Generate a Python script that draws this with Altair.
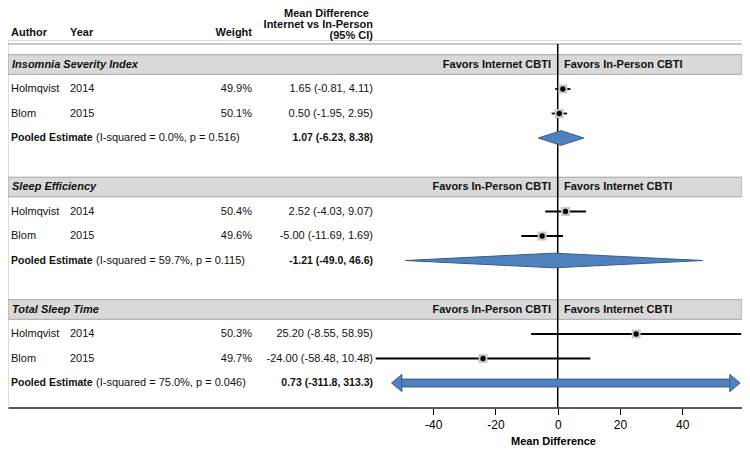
import altair as alt
import pandas as pd

# ---------------- data ----------------
OUTCOMES = ["Insomnia Severity Index", "Sleep Efficiency", "Total Sleep Time"]
FAVORS_LEFT = ["Favors Internet CBTI", "Favors In-Person CBTI", "Favors In-Person CBTI"]
FAVORS_RIGHT = ["Favors In-Person CBTI", "Favors Internet CBTI", "Favors Internet CBTI"]
AUTHORS = ["Holmqvist", "Blom"]
YEARS = ["2014", "2015"]
WEIGHTS = [["49.9%", "50.1%"], ["50.4%", "49.6%"], ["50.3%", "49.7%"]]
EST = [[1.65, 0.50], [2.52, -5.00], [25.20, -24.00]]
LOWER = [[-0.81, -1.95], [-4.03, -11.69], [-8.55, -58.48]]
UPPER = [[4.11, 2.95], [9.07, 1.69], [58.95, 10.48]]
POOLED_EST = [1.07, -1.21, 0.73]
POOLED_LOWER = [-6.23, -49.0, -311.8]
POOLED_UPPER = [8.38, 46.6, 313.3]
POOLED_LABEL = ["1.07 (-6.23, 8.38)", "-1.21 (-49.0, 46.6)", "0.73 (-311.8, 313.3)"]
HETEROGENEITY = ["(I-squared = 0.0%, p = 0.516)",
                 "(I-squared = 59.7%, p = 0.115)",
                 "(I-squared = 75.0%, p = 0.046)"]
HEADER_COLS = ["Author", "Year", "Weight"]
HEADER_CI = ["Mean Difference", "Internet vs In-Person", "(95% CI)"]
TICKS = [-40, -20, 0, 20, 40]
X_TITLE = "Mean Difference"

# ---------------- layout ----------------
W, H = 734, 367.5
PAD = {"left": 0, "right": 0, "top": 32, "bottom": 40.5}
X_DOMAIN = [-176.6, 59.2]
ARROW_LIMITS = [-53.4, 58.6]
Y_DOMAIN = [0, 15]
FONT = "Liberation Sans"
TXT = "#111111"
ROW_FS = 11

xs = alt.Scale(domain=X_DOMAIN, nice=False, zero=False)
ys = alt.Scale(domain=Y_DOMAIN, nice=False, zero=False, reverse=True)
X_AXIS = alt.Axis(values=TICKS, title=X_TITLE, grid=False, domainColor="#595959",
                  domainWidth=2, tickColor="#000000", tickSize=7, tickWidth=1,
                  labelFontSize=12, labelColor="#000000", labelPadding=5,
                  labelExpr="'' + datum.value", labelFont=FONT,
                  titleFont=FONT, titleFontSize=11, titleFontWeight="bold",
                  titleColor="#000000", titleX=545, titleY=34, titleBaseline="middle")

# ---------------- tables ----------------
bands, studies, pooled, diamond, arrows = [], [], [], [], []
for k, name in enumerate(OUTCOMES):
    base = 1 + 5 * k
    bands.append({"row": base, "outcome": name, "left": FAVORS_LEFT[k], "right": FAVORS_RIGHT[k]})
    for j in range(2):
        e, lo, hi = EST[k][j], LOWER[k][j], UPPER[k][j]
        studies.append({"row": base + 1 + j, "author": AUTHORS[j], "year": YEARS[j],
                        "weight": WEIGHTS[k][j], "est": e, "lo": lo, "hi": hi,
                        "ci": f"{e:.2f} ({lo:.2f}, {hi:.2f})"})
    prow = base + 3
    pooled.append({"row": prow, "label": POOLED_LABEL[k], "het": HETEROGENEITY[k]})
    pe, pl, ph = POOLED_EST[k], POOLED_LOWER[k], POOLED_UPPER[k]
    if pl >= ARROW_LIMITS[0] and ph <= ARROW_LIMITS[1]:
        for xv, dy in [(pl, 0.0), (pe, 0.3), (ph, 0.0)]:
            diamond.append({"g": name, "x": xv, "y": prow - dy, "y2": prow + dy})
    else:
        arrows.append({"row": prow, "lo": max(pl, ARROW_LIMITS[0]), "hi": min(ph, ARROW_LIMITS[1])})

bands = pd.DataFrame(bands)
studies = pd.DataFrame(studies)
pooled = pd.DataFrame(pooled)
diamond = pd.DataFrame(diamond)
arrows = pd.DataFrame(arrows)
one = pd.DataFrame({"x": [0]})

Y = lambda f: alt.Y(f, scale=ys, axis=None)
X = lambda f: alt.X(f, scale=xs, axis=X_AXIS)

layers = []

# gray outcome bands
layers.append(
    alt.Chart(bands).transform_calculate(top="datum.row - 0.4", bot="datum.row + 0.4")
    .mark_rect(fill="#d9d9d9", stroke="#a6a6a6", strokeWidth=1)
    .encode(x=alt.value(0), x2=alt.value(W), y=Y("top:Q"), y2="bot:Q")
)
# header separator line
layers.append(
    alt.Chart(one).mark_rule(color="#c8c8c8", strokeWidth=2)
    .encode(x=alt.value(0), x2=alt.value(W), y=alt.value(4))
)
# zero line
layers.append(
    alt.Chart(one).mark_rule(color="#000000", strokeWidth=1.5)
    .encode(x=X("x:Q"), y=alt.value(4), y2=alt.value(H))
)
# pooled diamonds
if len(diamond):
    layers.append(
        alt.Chart(diamond).mark_area(fill="#4f81bd", stroke="#385d8a", strokeWidth=1, opacity=1)
        .encode(x=X("x:Q"), y=Y("y:Q"), y2="y2:Q", detail="g:N")
    )
# pooled arrows (interval beyond the plotted range)
if len(arrows):
    layers.append(
        alt.Chart(arrows).transform_calculate(top="datum.row - 0.16", bot="datum.row + 0.16")
        .mark_rect(fill="#4f81bd", stroke="#385d8a", strokeWidth=1, xOffset=8, x2Offset=-8)
        .encode(x=X("lo:Q"), x2="hi:Q", y=Y("top:Q"), y2="bot:Q")
    )
    layers.append(
        alt.Chart(arrows).mark_point(shape="M-0.6,0L0.6,-1L0.6,1Z", size=300, filled=True,
                                     fill="#4f81bd", stroke="#385d8a", strokeWidth=1,
                                     opacity=1, xOffset=5.2)
        .encode(x=X("lo:Q"), y=Y("row:Q"))
    )
    layers.append(
        alt.Chart(arrows).mark_point(shape="M0.6,0L-0.6,-1L-0.6,1Z", size=300, filled=True,
                                     fill="#4f81bd", stroke="#385d8a", strokeWidth=1,
                                     opacity=1, xOffset=-5.2)
        .encode(x=X("hi:Q"), y=Y("row:Q"))
    )
# study CIs, weight boxes, point estimates
layers.append(
    alt.Chart(studies).mark_rule(color="#000000", strokeWidth=1.8)
    .encode(x=X("lo:Q"), x2="hi:Q", y=Y("row:Q"))
)
layers.append(
    alt.Chart(studies).mark_square(color="#c8c8c8", size=80, opacity=1)
    .encode(x=X("est:Q"), y=Y("row:Q"))
)
layers.append(
    alt.Chart(studies).mark_circle(color="#000000", size=28, opacity=1)
    .encode(x=X("est:Q"), y=Y("row:Q"))
)

# ---------------- text ----------------
def txt(df, field, xpx, align="left", weight="normal", style="normal", size=ROW_FS, y=None):
    enc = {"text": f"{field}:N", "x": alt.value(xpx),
           "y": (Y("row:Q") if y is None else alt.value(y))}
    return alt.Chart(df).mark_text(align=align, baseline="middle", font=FONT, fontSize=size,
                                   fontWeight=weight, fontStyle=style, color=TXT).encode(**enc)

layers += [
    txt(bands, "outcome", 4, weight="bold", style="italic", size=11),
    txt(bands, "left", 543, align="right", weight="bold", size=11),
    txt(bands, "right", 556, weight="bold", size=11),
    txt(studies, "author", 3),
    txt(studies, "year", 62),
    txt(studies, "weight", 244, align="right"),
    txt(studies, "ci", 365, align="right"),
    txt(pooled.assign(t="Pooled Estimate"), "t", 3, weight="bold", size=10.5),
    txt(pooled, "het", 88),
    txt(pooled, "label", 365, align="right", weight="bold", size=10.5),
]
hdr = pd.DataFrame({"t": HEADER_COLS})
layers += [
    txt(hdr[hdr.t == HEADER_COLS[0]], "t", 3, weight="bold", size=11, y=-7),
    txt(hdr[hdr.t == HEADER_COLS[1]], "t", 62, weight="bold", size=11, y=-7),
    txt(hdr[hdr.t == HEADER_COLS[2]], "t", 244, align="right", weight="bold", size=11, y=-7),
]
for i, line in enumerate(HEADER_CI):
    layers.append(txt(pd.DataFrame({"t": [line]}), "t", 365 if i else 361, align="right",
                      weight="bold", size=11, y=-26 + 11 * i))

chart = (
    alt.layer(*layers)
    .properties(width=W, height=H, padding=PAD, autosize=alt.AutoSizeParams(type="none"))
    .configure_view(strokeWidth=0)
    .configure(font=FONT, background="white")
)
chart.save("out.html", embed_options={"renderer": "svg", "actions": False})
